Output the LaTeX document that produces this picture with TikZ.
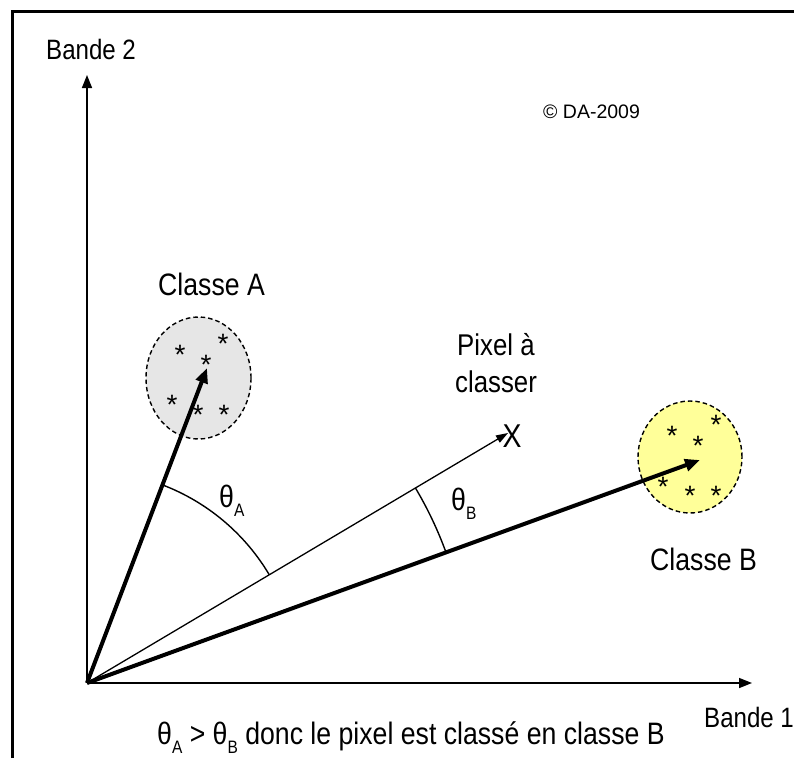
\documentclass[tikz,border=0pt]{standalone}
\usepackage{fontspec}
\setmainfont{Liberation Sans}[FakeStretch=0.86]
\newfontfamily\plainfont{Liberation Sans}
\usetikzlibrary{arrows.meta,shapes.geometric}
\newcommand{\sbs}[1]{\raisebox{-0.3em}{\fontsize{18}{18}\selectfont #1}}
\definecolor{grayfill}{RGB}{230,230,230}
\definecolor{yellowfill}{RGB}{255,255,153}
\begin{document}
\begin{tikzpicture}[x=1pt,y=-1pt,
  txt/.style={inner sep=0pt, anchor=base west, font=\fontsize{28}{32}\selectfont},
  bigtxt/.style={txt, font=\fontsize{31}{34}\selectfont},
  axis/.style={line width=1.5pt, -{Triangle[length=13pt,width=10pt]}},
  bigarrow/.style={line width=4pt, -{Triangle[length=15pt,width=12pt]}},
  thinarrow/.style={line width=1.3pt, -{Triangle[length=12pt,width=8pt]}},
  cloud/.style={ellipse, draw, line width=1.4pt, dash pattern=on 4.5pt off 3pt, inner sep=0pt},
  astk/.style={inner sep=0pt, anchor=base, yshift=-16pt, font=\plainfont\fontsize{28}{28}\selectfont},
  anglearc/.style={line width=1.4pt}
]
\useasboundingbox (0,0) rectangle (794,758);
% frame
\draw[line width=3pt] (12,758) -- (12,11.5) -- (794,11.5);

% ellipses (classes)
\node[cloud, fill=grayfill, minimum width=105pt, minimum height=122pt] (ellA) at (198.5,378) {};
\node[cloud, fill=yellowfill, minimum width=104pt, minimum height=112pt] (ellB) at (690,457) {};

% stars
\foreach \n/\px/\py in {1/180/348, 2/223/337, 3/206/358, 4/172/398, 5/198/408, 6/224/408}
  \node[astk] (sA\n) at (\px,\py) {*};
\foreach \n/\px/\py in {1/672/429, 2/716/418, 3/698/439, 4/663/480, 5/690/489, 6/716/489}
  \node[astk] (sB\n) at (\px,\py) {*};

% axes
\coordinate (O) at (87,683);
\coordinate (Ytip) at (87,75);
\coordinate (Xtip) at (752,683);
\draw[axis] (O) -- (Ytip);
\draw[axis] (O) -- (Xtip);

% vectors
\coordinate (tipA) at (207,368);
\coordinate (tipB) at (700,460);
\coordinate (tipP) at (508,433);
\draw[bigarrow] (O) -- (tipA);
\draw[bigarrow] (O) -- (tipB);
\draw[thinarrow] (O) -- (tipP);
\node[inner sep=0pt, anchor=base west, font=\fontsize{33}{33}\selectfont] (X) at (502.5,447) {X};

% angle arcs
\draw[anglearc] (O) ++(-69.15:212) arc[start angle=-69.15, end angle=-30.7, radius=212];
\draw[anglearc] (O) ++(-30.7:382) arc[start angle=-30.7, end angle=-20.0, radius=382];
\node[bigtxt] (thA) at (219,507) {θ\sbs{A}};
\node[bigtxt] (thB) at (451,510) {θ\sbs{B}};

% labels
\node[txt] (b2) at (46,59) {Bande 2};
\node[txt] (b1) at (704,727) {Bande 1};
\node[inner sep=0pt, anchor=base west, font=\plainfont\fontsize{19.5}{20}\selectfont] (copy) at (543,118) {© DA-2009};
\node[bigtxt] (cA) at (158,295) {Classe A};
\node[bigtxt] (cB) at (650,570) {Classe B};
\node[txt, font=\fontsize{30}{32}\selectfont] (pix1) at (457,355) {Pixel à};
\node[txt, font=\fontsize{30}{32}\selectfont] (pix2) at (455,392) {classer};
\node[bigtxt] (concl) at (157,744) {θ\sbs{A} > θ\sbs{B} donc le pixel est classé en classe B};
\end{tikzpicture}
\end{document}
